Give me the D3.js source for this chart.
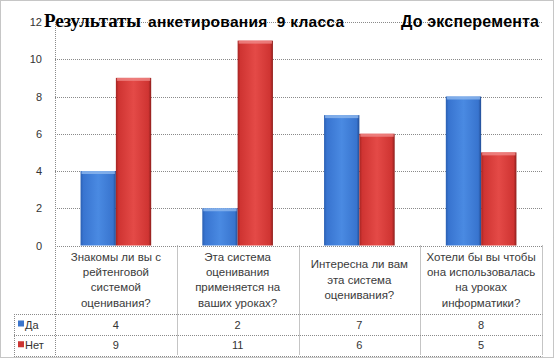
<!DOCTYPE html>
<html><head><meta charset="utf-8">
<script src="https://cdn.jsdelivr.net/npm/d3@7"></script>
<style>
html,body{margin:0;padding:0;background:#fff;}
svg{display:block;}
text{font-family:"Liberation Sans",Arial,sans-serif;}
</style></head>
<body>
<svg id="chart" width="554" height="358"></svg>
<script>
const categories = [
  ["Знакомы ли вы с","рейтенговой","системой","оценивания?"],
  ["Эта система","оценивания","применяется на","ваших уроках?"],
  ["Интересна ли вам","эта система","оценивания?"],
  ["Хотели бы вы чтобы","она использовалась","на уроках","информатики?"]
];
const seriesNames = ["Да","Нет"];
const yesValues = [4, 2, 7, 8];
const noValues = [9, 11, 6, 5];
const yTicks = [0, 2, 4, 6, 8, 10, 12];
const titleLeft = ["Результаты", "анкетирования  9 класса"];
const titleRight = "До эксперемента";

(function(){
const series = [yesValues, noValues];
const svg = d3.select("#chart");
const W = 554, H = 358;
const pLeft = 55, pRight = 542, pTop = 22, pBottom = 245.5;
const tableRows = [314, 335, 355.5];
const tableLeft = 14;

const defs = svg.append("defs");
function grad(id, stops){
  const g = defs.append("linearGradient").attr("id", id).attr("x1","0").attr("x2","1").attr("y1","0").attr("y2","0");
  stops.forEach(s => g.append("stop").attr("offset", s[0]).attr("stop-color", s[1]));
}
grad("gBlue", [[0,"#2a5fb2"],[0.08,"#3874d0"],[0.5,"#4a8ae2"],[0.92,"#3874ce"],[1,"#234d94"]]);
grad("gRed", [[0,"#a42422"],[0.08,"#cf3432"],[0.5,"#e44a47"],[0.92,"#cf3432"],[1,"#8d1e1c"]]);
const fills = ["url(#gBlue)", "url(#gRed)"];
const tops = ["#8fb8ee", "#f08a88"];
const legendColors = ["#3a74cc", "#cc3533"];

svg.append("rect").attr("x",0.5).attr("y",0.5).attr("width",W-1).attr("height",H-1)
  .attr("fill","none").attr("stroke","#8c8c8c").attr("stroke-dasharray","1,1");

const y = d3.scaleLinear().domain([0, 12]).range([pBottom, pTop]);
const x0 = d3.scaleBand().domain(d3.range(categories.length)).range([pLeft, pRight]).padding(0);
const bw = x0.bandwidth();
const x1 = d3.scaleBand().domain(d3.range(series.length)).range([bw*0.21, bw*0.79]).padding(0);

svg.append("g").selectAll("line").data(yTicks).join("line")
  .attr("x1", pLeft).attr("x2", pRight+1)
  .attr("y1", d => Math.round(y(d))+0.5).attr("y2", d => Math.round(y(d))+0.5)
  .attr("stroke","#8a8a8a").attr("stroke-width",1).attr("stroke-dasharray","1,1");

svg.append("g").selectAll("text").data(yTicks).join("text")
  .attr("x", 42).attr("y", d => y(d)+4)
  .attr("text-anchor","end").attr("font-size", 11).attr("fill","#333")
  .text(d => d);

const groups = svg.append("g").selectAll("g").data(categories.map((c,i)=>i)).join("g")
  .attr("transform", i => `translate(${x0(i)},0)`);
groups.selectAll("rect.bar").data(i => series.map((s,k)=>({k, v:s[i]}))).join("rect")
  .attr("class","bar")
  .attr("x", d => x1(d.k)).attr("width", x1.bandwidth())
  .attr("y", d => y(d.v)).attr("height", d => pBottom - y(d.v))
  .attr("fill", d => fills[d.k]);
groups.selectAll("rect.cap").data(i => series.map((s,k)=>({k, v:s[i]}))).join("rect")
  .attr("class","cap")
  .attr("x", d => x1(d.k)+1).attr("width", x1.bandwidth()-2)
  .attr("y", d => y(d.v)).attr("height", 3)
  .attr("fill", d => tops[d.k]).attr("opacity",0.8);

svg.append("line").attr("x1", pLeft+0.5).attr("x2", pLeft+0.5).attr("y1", pTop).attr("y2", tableRows[2])
  .attr("stroke","#8a8a8a").attr("stroke-dasharray","1,1");

const tg = svg.append("g").attr("stroke","#8a8a8a").attr("stroke-dasharray","1,1");
tg.append("line").attr("x1", pLeft).attr("x2", pRight).attr("y1", Math.round(pBottom)+0.5).attr("y2", Math.round(pBottom)+0.5);
tableRows.forEach(ry => tg.append("line").attr("x1", tableLeft).attr("x2", pRight+0.5)
  .attr("y1", Math.round(ry)+0.5).attr("y2", Math.round(ry)+0.5));
tg.append("line").attr("x1", tableLeft+0.5).attr("x2", tableLeft+0.5).attr("y1", tableRows[0]).attr("y2", tableRows[2]);
d3.range(1, categories.length+1).forEach(i => {
  const xx = Math.round(pLeft + bw*i) + 0.5;
  tg.append("line").attr("x1", xx).attr("x2", xx).attr("y1", pBottom).attr("y2", tableRows[2]);
});

const lh = 15.3;
categories.forEach((lines, i) => {
  const cx = x0(i) + bw/2;
  const cy = (pBottom + tableRows[0]) / 2;
  const startY = cy - (lines.length-1)*lh/2 + 4;
  const t = svg.append("text").attr("text-anchor","middle").attr("font-size", 11.5).attr("fill","#3a3a3a");
  lines.forEach((ln, j) => t.append("tspan").attr("x", cx).attr("y", startY + j*lh).text(ln));
});

series.forEach((s, k) => {
  const ry = (tableRows[k] + tableRows[k+1]) / 2 + 4;
  s.forEach((v, i) => {
    svg.append("text").attr("x", x0(i)+bw/2).attr("y", ry).attr("text-anchor","middle")
      .attr("font-size", 11).attr("fill","#333").text(v);
  });
  svg.append("rect").attr("x", 18).attr("y", ry-8).attr("width", 6).attr("height", 6).attr("fill", legendColors[k]);
  svg.append("text").attr("x", 25).attr("y", ry).attr("font-size", 11).attr("fill","#333").text(seriesNames[k]);
});

svg.append("text").attr("x", 44).attr("y", 27).attr("fill","#000").attr("font-weight","bold")
  .style("font-family","'Liberation Serif','Times New Roman',serif").attr("font-size", 19)
  .attr("textLength", 97).attr("lengthAdjust","spacing").text(titleLeft[0]);
svg.append("text").attr("x", 148).attr("y", 27).attr("fill","#000").attr("font-weight","bold")
  .attr("font-size", 15.5).style("white-space","pre")
  .attr("textLength", 196).attr("lengthAdjust","spacing").text(titleLeft[1]);
svg.append("text").attr("x", 401).attr("y", 27).attr("font-size", 16)
  .attr("font-weight","bold").attr("fill","#000")
  .attr("textLength", 138).attr("lengthAdjust","spacing").text(titleRight);
})();
</script>
</body></html>
